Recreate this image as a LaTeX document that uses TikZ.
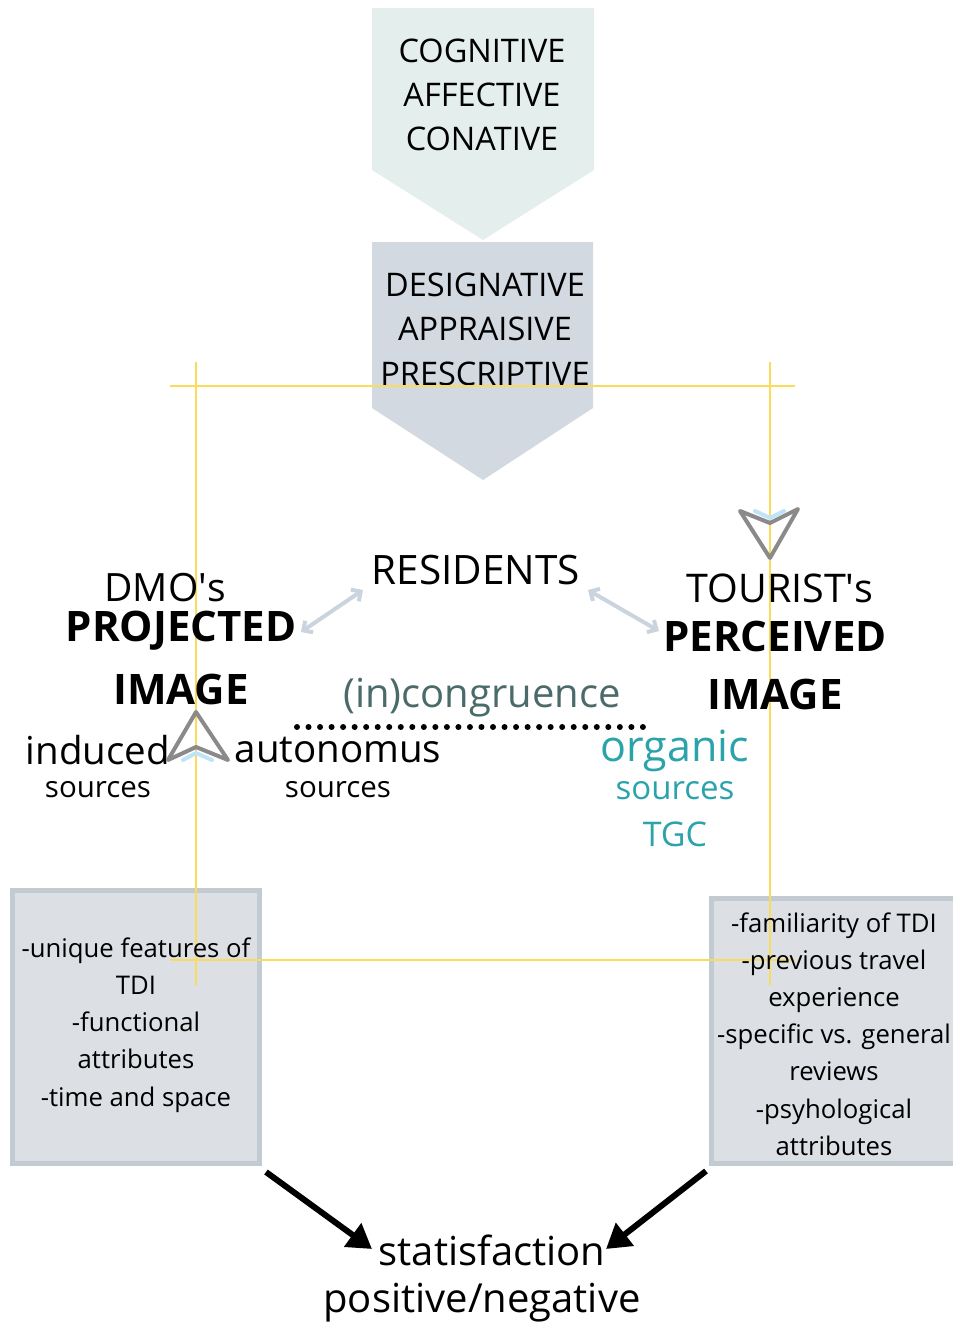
\documentclass[tikz,border=0pt]{standalone}
\usepackage{fontspec}
\setmainfont{Open Sans}
\usetikzlibrary{arrows.meta}
\definecolor{mint}{HTML}{E4EEEC}
\definecolor{slate}{HTML}{D3D9E1}
\definecolor{gold}{HTML}{F9DC5C}
\definecolor{boxfill}{HTML}{DCE0E5}
\definecolor{boxedge}{HTML}{C2CAD2}
\definecolor{icongray}{HTML}{8A8A8A}
\definecolor{chevblue}{HTML}{BFE3F7}
\definecolor{dblarrow}{HTML}{C9D4DE}
\definecolor{congr}{HTML}{4B6B6B}
\definecolor{tealc}{HTML}{2AA3AA}
\newcommand\myfs[2]{\fontsize{#1}{#2}\selectfont}
\newcommand\apos{\textquotesingle}
\begin{document}
\begin{tikzpicture}[x=1pt,y=-1pt,
  guide/.style={gold,line width=2pt},
  infobox/.style={fill=boxfill,draw=boxedge,line width=5pt},
  icon/.style={icongray,line width=4pt,line join=round,line cap=round},
  chev/.style={chevblue,line width=4pt,line cap=round},
  twoway/.style={dblarrow,line width=4pt,line cap=round,{Straight Barb[length=7pt,width=14pt]}-{Straight Barb[length=7pt,width=14pt]}},
  bigarrow/.style={black,line width=6pt,-{Triangle[length=24pt,width=28pt]}},
  lbl/.style={inner sep=0pt,anchor=center,align=center}]
\useasboundingbox (0,0) rectangle (953,1328);
% pentagons
\fill[mint] (372,8) -- (594,8) -- (594,170) -- (483,240) -- (372,170) -- cycle;
\fill[slate] (372,242) -- (593,242) -- (593,408) -- (483,480) -- (372,408) -- cycle;
\node[lbl,font=\myfs{32.5}{44}] (cog) at (482,95) {COGNITIVE\\AFFECTIVE\\CONATIVE};
\node[lbl,font=\myfs{32.5}{44.5}] (des) at (485,329) {DESIGNATIVE\\APPRAISIVE\\PRESCRIPTIVE};
% boxes
\draw[infobox] (12,890) rectangle (259,1163);
\draw[infobox] (711,898) rectangle (958,1163);
% guide lines
\draw[guide] (170,386) -- (795,386);
\draw[guide] (170,960) -- (795,960);
\draw[guide] (196,362) -- (196,985);
\draw[guide] (770,362) -- (770,985);
% box texts
\node[lbl,font=\myfs{25.7}{37.2}] (ltxt) at (136,1025) {-unique features of\\TDI\\-functional\\attributes\\-time and space};
\node[lbl,font=\myfs{25.7}{37.2}] (rtxt) at (834,1034) {-familiarity of TDI\\-previous travel\\experience\\-specific vs. general\\reviews\\-psyhological\\attributes};
% central labels
\node[lbl,font=\myfs{40.5}{44}] (res) at (476,570) {RESIDENTS};
\node[lbl,font=\myfs{39}{44}] (dmo) at (165,588) {DMO\apos s};
\node[lbl,font=\myfs{42}{44}\bfseries] (proj) at (181,631) {PROJECTED};
\node[lbl,font=\myfs{42}{44}\bfseries] (limg) at (181,689) {IMAGE};
\node[lbl,font=\myfs{39.5}{44}] (tour) at (780,588) {TOURIST\apos s};
\node[lbl,font=\myfs{42}{44}\bfseries] (perc) at (775,636) {PERCEIVED};
\node[lbl,font=\myfs{42}{44}\bfseries] (rimg) at (775,694) {IMAGE};
\node[lbl,font=\myfs{40}{44},text=congr] (cong) at (482,698) {(in)congruence};
\node[lbl,font=\myfs{38.5}{44}] (ind) at (98,750) {induced};
\node[lbl,font=\myfs{29.5}{34}] (inds) at (98,790) {sources};
\node[lbl,font=\myfs{38.5}{44}] (aut) at (338,750) {autonomus};
\node[lbl,font=\myfs{29.5}{34}] (auts) at (338,790) {sources};
\node[lbl,font=\myfs{43}{44},text=tealc] (org) at (675,751) {organic};
\node[lbl,font=\myfs{33}{34},text=tealc] (orgs) at (675,791) {sources};
\node[lbl,font=\myfs{34}{34},text=tealc] (tgc) at (675,834) {TGC};
\node[lbl,font=\myfs{40}{44}] (sat) at (492,1250) {statisfaction};
\node[lbl,font=\myfs{40}{44}] (pn) at (482,1303) {positive/negative};
% dotted line
\coordinate (d1) at (297,727);
\coordinate (d2) at (643,727);
\draw[line width=6pt,line cap=round,dash pattern=on 0pt off 11.53pt] (d1) -- (d2);
% double arrows
\coordinate (la1) at (301,632);
\coordinate (la2) at (363,590);
\coordinate (ra1) at (588,590);
\coordinate (ra2) at (659,631);
\draw[twoway] (la1) -- (la2);
\draw[twoway] (ra1) -- (ra2);
% navigation icons
\draw[chev] (755,511) -- (770,518) -- (784,511);
\draw[icon] (740,511) -- (770,558) -- (798,509) -- (770,523) -- cycle;
\draw[chev] (183,760) -- (196,753) -- (212,760);
\draw[icon] (196,712) -- (168,760) -- (196,747) -- (228,760) -- cycle;
% big arrows
\coordinate (lb) at (266,1172);
\coordinate (lt) at (372,1249);
\coordinate (rb) at (706,1171);
\coordinate (rt) at (606,1249);
\draw[bigarrow] (lb) -- (lt);
\draw[bigarrow] (rb) -- (rt);
\end{tikzpicture}
\end{document}
